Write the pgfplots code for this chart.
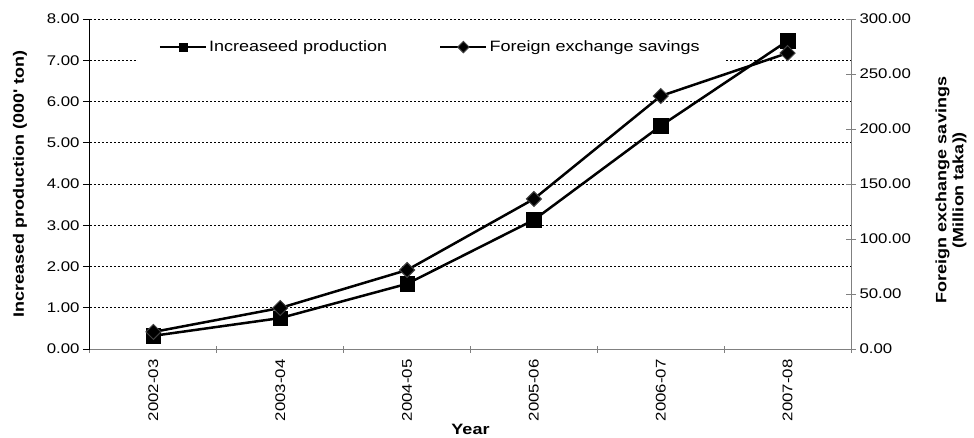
\documentclass[border=0pt]{standalone}
\usepackage{fontspec}
\setmainfont{Liberation Sans}[FakeStretch=1.2]
\usepackage{pgfplots}
\pgfplotsset{compat=1.18}

\definecolor{axisgray}{HTML}{808080}
\definecolor{markedge}{HTML}{404040}

\newcommand{\labelfont}{\bfseries\fontsize{15}{17}\selectfont}

\pgfplotsset{
  common/.style={
    width=761pt, height=330pt, scale only axis,
    xmin=-0.5, xmax=5.5,
    /pgf/number format/fixed,
    /pgf/number format/fixed zerofill,
    /pgf/number format/precision=2,
    /pgf/number format/assume math mode=true,
    tick label style={font=\fontsize{14}{16}\selectfont, text=black},
  },
  prodstyle/.style={black, line width=2.5pt, mark=square*, mark size=7.3pt,
    mark options={solid, fill=black, draw=black, line width=0.5pt}},
  fxstyle/.style={black, line width=2.5pt, mark=square*, mark size=5.3pt,
    mark options={solid, rotate=45, fill=black, draw=markedge, line width=1pt}},
}

\begin{document}
\begin{tikzpicture}
% left axis: increased production, with grid and legend
\begin{axis}[common, name=main,
  axis lines*=left,
  x axis line style={axisgray, line width=1pt},
  y axis line style={black, line width=1pt},
  ymin=0, ymax=8, ytick={0,1,...,8},
  xtick={-0.5,0.5,...,5.5}, xticklabels={},
  extra x ticks={0,1,2,3,4,5},
  extra x tick labels={2002-03,2003-04,2004-05,2005-06,2006-07,2007-08},
  extra x tick style={major tick length=0pt, grid=none},
  xticklabel style={yshift=-7pt, rotate=90, anchor=east},
  xtick align=center, ytick align=outside,
  major tick length=7pt,
  x tick style={axisgray, line width=1pt},
  y tick style={black, line width=1pt},
  ymajorgrids,
  major grid style={black, line width=0.6pt, dash pattern=on 2pt off 2pt},
  every axis y label/.style={at={(rel axis cs:0,0.5)}, xshift=-70pt, rotate=90, anchor=center, font=\labelfont},
  ylabel={Increased production (000\textquotesingle{} ton)},
  every axis x label/.style={at={(rel axis cs:0.5,0)}, yshift=-80pt, anchor=center, font=\labelfont},
  xlabel={Year},
  legend columns=2,
  legend style={draw=none, fill=white, at={(0.447,0.915)}, anchor=center,
    inner xsep=22pt, inner ysep=6pt,
    font=\fontsize{15}{17}\selectfont,
    /tikz/every even column/.append style={column sep=50pt}},
  legend image code/.code={
    \draw[mark repeat=2, mark phase=2, mark size=4pt, line width=2.5pt]
      plot coordinates {(0pt,0pt) (23pt,0pt) (46pt,0pt)};
  },
]
\addplot[prodstyle] coordinates {
  (0,0.32) (1,0.75) (2,1.58) (3,3.13) (4,5.41) (5,7.47)
};
\addlegendentry{Increaseed production}
\addlegendimage{fxstyle, mark size=3pt}
\addlegendentry{Foreign exchange savings}
\end{axis}

% right axis: foreign exchange savings
\begin{axis}[common,
  axis x line=none,
  axis y line*=right,
  y axis line style={axisgray, line width=1pt},
  ymin=0, ymax=300, ytick={0,50,...,300},
  ytick align=center, major tick length=10pt,
  y tick style={axisgray, line width=1pt},
  every axis y label/.style={at={(rel axis cs:1,0.5)}, xshift=100pt, yshift=-6pt, rotate=90, anchor=center, align=center, font=\labelfont},
  ylabel={Foreign exchange savings\\(Million taka))},
]
\addplot[fxstyle] coordinates {
  (0,15.5) (1,37.3) (2,71.8) (3,136.4) (4,230) (5,269)
};
\end{axis}

\pgfresetboundingbox
\path (main.south west) ++(-90pt,-88pt) rectangle ++(974pt,437pt);
\end{tikzpicture}
\end{document}
